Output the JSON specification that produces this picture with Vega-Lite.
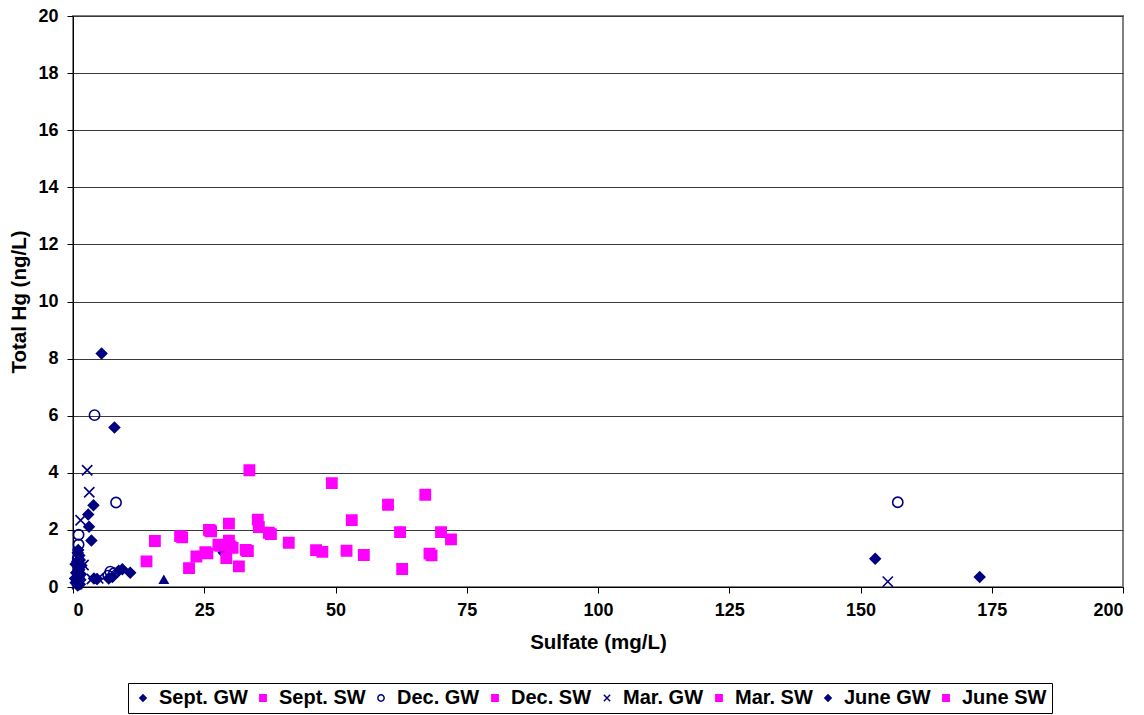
{
  "$schema": "https://vega.github.io/schema/vega-lite/v6.json",
  "width": 1050,
  "height": 571,
  "autosize": {"type": "none"},
  "padding": {"left": 73, "top": 16, "right": 21, "bottom": 128},
  "background": "white",
  "config": {
    "font": "Liberation Sans",
    "view": {"stroke": "#808080", "strokeWidth": 2},
    "axis": {
      "labelFont": "Liberation Sans", "labelFontWeight": "bold", "labelFontSize": 18, "labelColor": "black",
      "titleFont": "Liberation Sans", "titleFontWeight": "bold", "titleFontSize": 20.5, "titleColor": "black",
      "domainColor": "black", "domainWidth": 1, "tickColor": "black", "tickSize": 6, "tickWidth": 1
    },
    "legend": {"labelFont": "Liberation Sans", "labelFontWeight": "bold", "labelFontSize": 20, "labelColor": "black"}
  },
  "data": {
    "values": [
      {"series": "Sept. GW", "sulfate": 5.45, "hg": 8.18},
      {"series": "Sept. GW", "sulfate": 7.9, "hg": 5.59},
      {"series": "Sept. GW", "sulfate": 3.9, "hg": 2.86},
      {"series": "Sept. GW", "sulfate": 2.9, "hg": 2.54},
      {"series": "Sept. GW", "sulfate": 3.05, "hg": 2.11},
      {"series": "Sept. GW", "sulfate": 3.5, "hg": 1.63},
      {"series": "Sept. GW", "sulfate": 28.7, "hg": 1.2},
      {"series": "Sept. GW", "sulfate": 152.8, "hg": 0.99},
      {"series": "Sept. GW", "sulfate": 172.7, "hg": 0.35},
      {"series": "Sept. GW", "sulfate": 1.0, "hg": 1.3},
      {"series": "Sept. GW", "sulfate": 1.2, "hg": 1.1},
      {"series": "Sept. GW", "sulfate": 0.8, "hg": 0.9},
      {"series": "Sept. GW", "sulfate": 1.0, "hg": 0.7},
      {"series": "Sept. GW", "sulfate": 0.6, "hg": 0.5},
      {"series": "Sept. GW", "sulfate": 1.1, "hg": 0.35},
      {"series": "Sept. GW", "sulfate": 0.7, "hg": 0.2},
      {"series": "Sept. GW", "sulfate": 1.3, "hg": 0.1},
      {"series": "Sept. GW", "sulfate": 4.0, "hg": 0.3},
      {"series": "Sept. GW", "sulfate": 4.6, "hg": 0.28},
      {"series": "Sept. SW", "sulfate": 33.6, "hg": 4.09},
      {"series": "Sept. SW", "sulfate": 60.0, "hg": 2.88},
      {"series": "Sept. SW", "sulfate": 29.7, "hg": 2.22},
      {"series": "Sept. SW", "sulfate": 25.9, "hg": 2.0},
      {"series": "Sept. SW", "sulfate": 62.3, "hg": 1.92},
      {"series": "Sept. SW", "sulfate": 20.4, "hg": 1.78},
      {"series": "Sept. SW", "sulfate": 27.7, "hg": 1.48},
      {"series": "Sept. SW", "sulfate": 32.9, "hg": 1.3},
      {"series": "Sept. SW", "sulfate": 46.3, "hg": 1.29},
      {"series": "Sept. SW", "sulfate": 23.5, "hg": 1.07},
      {"series": "Dec. GW", "sulfate": 4.1, "hg": 6.02},
      {"series": "Dec. GW", "sulfate": 8.2, "hg": 2.96},
      {"series": "Dec. GW", "sulfate": 1.07, "hg": 1.83},
      {"series": "Dec. GW", "sulfate": 1.07, "hg": 1.49},
      {"series": "Dec. GW", "sulfate": 157.1, "hg": 2.97},
      {"series": "Dec. GW", "sulfate": 7.1, "hg": 0.54},
      {"series": "Dec. GW", "sulfate": 7.8, "hg": 0.48},
      {"series": "Dec. GW", "sulfate": 6.7, "hg": 0.4},
      {"series": "Dec. GW", "sulfate": 0.9, "hg": 1.0},
      {"series": "Dec. GW", "sulfate": 1.0, "hg": 0.6},
      {"series": "Dec. SW", "sulfate": 49.3, "hg": 3.64},
      {"series": "Dec. SW", "sulfate": 53.1, "hg": 2.34},
      {"series": "Dec. SW", "sulfate": 35.4, "hg": 2.1},
      {"series": "Dec. SW", "sulfate": 37.3, "hg": 1.9},
      {"series": "Dec. SW", "sulfate": 70.1, "hg": 1.92},
      {"series": "Dec. SW", "sulfate": 15.6, "hg": 1.61},
      {"series": "Dec. SW", "sulfate": 30.0, "hg": 1.42},
      {"series": "Dec. SW", "sulfate": 25.2, "hg": 1.22},
      {"series": "Dec. SW", "sulfate": 47.5, "hg": 1.23},
      {"series": "Dec. SW", "sulfate": 67.9, "hg": 1.17},
      {"series": "Dec. SW", "sulfate": 29.2, "hg": 1.01},
      {"series": "Mar. GW", "sulfate": 2.7, "hg": 4.09},
      {"series": "Mar. GW", "sulfate": 3.1, "hg": 3.32},
      {"series": "Mar. GW", "sulfate": 1.45, "hg": 2.34},
      {"series": "Mar. GW", "sulfate": 2.0, "hg": 0.77},
      {"series": "Mar. GW", "sulfate": 155.2, "hg": 0.19},
      {"series": "Mar. GW", "sulfate": 4.8, "hg": 0.3},
      {"series": "Mar. GW", "sulfate": 3.6, "hg": 0.28},
      {"series": "Mar. GW", "sulfate": 0.8, "hg": 0.1},
      {"series": "Mar. GW", "sulfate": 1.0, "hg": 0.4},
      {"series": "Mar. SW", "sulfate": 67.1, "hg": 3.23},
      {"series": "Mar. SW", "sulfate": 35.2, "hg": 2.36},
      {"series": "Mar. SW", "sulfate": 26.3, "hg": 1.95},
      {"series": "Mar. SW", "sulfate": 37.7, "hg": 1.85},
      {"series": "Mar. SW", "sulfate": 72.0, "hg": 1.67},
      {"series": "Mar. SW", "sulfate": 20.8, "hg": 1.74},
      {"series": "Mar. SW", "sulfate": 41.1, "hg": 1.55},
      {"series": "Mar. SW", "sulfate": 33.3, "hg": 1.26},
      {"series": "Mar. SW", "sulfate": 55.4, "hg": 1.12},
      {"series": "Mar. SW", "sulfate": 14.0, "hg": 0.9},
      {"series": "June GW", "sulfate": 6.8, "hg": 0.3},
      {"series": "June GW", "sulfate": 7.5, "hg": 0.35},
      {"series": "June GW", "sulfate": 8.7, "hg": 0.57},
      {"series": "June GW", "sulfate": 9.4, "hg": 0.62},
      {"series": "June GW", "sulfate": 10.9, "hg": 0.5},
      {"series": "June GW", "sulfate": 0.9, "hg": 1.2},
      {"series": "June GW", "sulfate": 1.3, "hg": 0.95},
      {"series": "June GW", "sulfate": 0.5, "hg": 0.8},
      {"series": "June GW", "sulfate": 1.2, "hg": 0.6},
      {"series": "June GW", "sulfate": 0.9, "hg": 0.45},
      {"series": "June GW", "sulfate": 0.4, "hg": 0.3},
      {"series": "June GW", "sulfate": 1.4, "hg": 0.25},
      {"series": "June GW", "sulfate": 0.9, "hg": 0.05},
      {"series": "June GW", "sulfate": 0.5, "hg": 0.15},
      {"series": "June GW", "sulfate": 1.6, "hg": 0.75},
      {"series": "June GW", "sulfate": 1.5, "hg": 0.45},
      {"series": "June SW", "sulfate": 29.7, "hg": 1.62},
      {"series": "June SW", "sulfate": 28.1, "hg": 1.44},
      {"series": "June SW", "sulfate": 30.4, "hg": 1.37},
      {"series": "June SW", "sulfate": 33.2, "hg": 1.26},
      {"series": "June SW", "sulfate": 25.6, "hg": 1.18},
      {"series": "June SW", "sulfate": 52.1, "hg": 1.27},
      {"series": "June SW", "sulfate": 68.3, "hg": 1.11},
      {"series": "June SW", "sulfate": 31.6, "hg": 0.72},
      {"series": "June SW", "sulfate": 22.1, "hg": 0.66},
      {"series": "June SW", "sulfate": 62.7, "hg": 0.63},
      {"series": "June SW", "sulfate": 26.1, "hg": 1.98},
      {"series": "Other", "sulfate": 17.3, "hg": 0.27}
    ]
  },
  "encoding": {
    "x": {
      "field": "sulfate", "type": "quantitative", "title": "Sulfate (mg/L)",
      "scale": {"domain": [0, 200], "nice": false, "zero": true},
      "axis": {"values": [0, 25, 50, 75, 100, 125, 150, 175, 200], "grid": false, "labelPadding": 8, "titlePadding": 13}
    },
    "y": {
      "field": "hg", "type": "quantitative", "title": "Total Hg (ng/L)",
      "scale": {"domain": [0, 20], "nice": false},
      "axis": {"values": [0, 2, 4, 6, 8, 10, 12, 14, 16, 18, 20], "grid": true, "gridColor": "#3a3a3a", "gridWidth": 1, "labelPadding": 9, "titlePadding": 8}
    }
  },
  "layer": [
    {
      "transform": [{"filter": "datum.series !== 'Other'"}],
      "mark": {"type": "point", "filled": true, "size": 105, "strokeWidth": 1.6, "opacity": 1},
      "encoding": {
        "shape": {
          "field": "series", "type": "nominal", "title": null,
          "scale": {
            "domain": ["Sept. GW", "Sept. SW", "Dec. GW", "Dec. SW", "Mar. GW", "Mar. SW", "June GW", "June SW"],
            "range": ["diamond", "square", "circle", "square", "M-1,-1L1,1M1,-1L-1,1", "square", "diamond", "square"]
          },
          "legend": {
            "orient": "none", "direction": "horizontal", "legendX": 55, "legendY": 667,
            "strokeColor": "black", "padding": 5, "columnPadding": 5, "labelOffset": 6,
            "symbolSize": 40, "symbolStrokeWidth": 1.5, "labelLimit": 200
          }
        },
        "fill": {
          "field": "series", "type": "nominal", "title": null,
          "scale": {
            "domain": ["Sept. GW", "Sept. SW", "Dec. GW", "Dec. SW", "Mar. GW", "Mar. SW", "June GW", "June SW"],
            "range": ["#000080", "#FF00FF", "transparent", "#FF00FF", "transparent", "#FF00FF", "#000080", "#FF00FF"]
          }
        },
        "stroke": {
          "field": "series", "type": "nominal", "title": null,
          "scale": {
            "domain": ["Sept. GW", "Sept. SW", "Dec. GW", "Dec. SW", "Mar. GW", "Mar. SW", "June GW", "June SW"],
            "range": ["#000080", "#FF00FF", "#000080", "#FF00FF", "#000080", "#FF00FF", "#000080", "#FF00FF"]
          }
        }
      }
    },
    {
      "transform": [{"filter": "datum.series === 'Other'"}],
      "mark": {"type": "point", "filled": true, "shape": "triangle-up", "size": 120, "color": "#000080", "opacity": 1},
      "encoding": {}
    }
  ]
}
